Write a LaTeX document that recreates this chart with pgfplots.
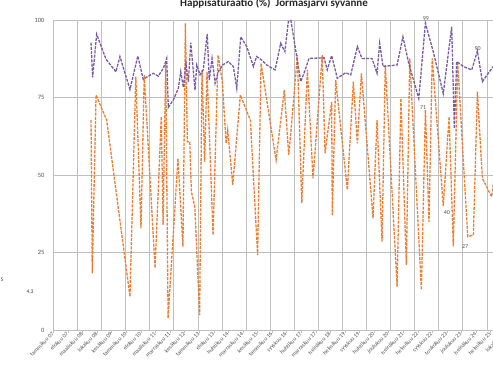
\documentclass[border=0pt]{standalone}
\usepackage{fontspec}
\setmainfont{Carlito}
\usepackage{pgfplots}
\usepackage{pgfplotstable}
\pgfplotsset{compat=1.18}
\definecolor{vioColor}{RGB}{118,90,165}
\definecolor{oraColor}{RGB}{237,125,49}
\definecolor{gridGray}{RGB}{191,191,191}
\definecolor{txtGray}{RGB}{80,80,80}

% x = months since January 2007
\pgfplotstableread{
m v
18.7 92.7
19.5 81.5
21.5 95.4
26.2 87.3
31.1 83.3
33.1 88.2
38.1 77.6
42.0 88.4
44.7 80.9
49.7 82.8
52.2 81.9
54.7 84.4
56.4 87.6
57.2 71.8
59.7 74.2
62.2 78.0
63.4 83.3
64.7 78.3
66.0 86.0
67.2 80.1
68.4 92.7
70.5 77.4
71.4 85.5
73.0 82.3
74.6 83.9
76.6 95.5
77.6 80.6
79.0 87.6
80.5 79.6
82.1 83.3
84.3 85.5
87.1 86.6
89.6 85.0
91.3 78.0
93.3 94.6
96.3 91.4
99.6 85.0
101.2 88.2
103.7 87.1
106.2 85.5
110.4 83.9
113.2 92.5
115.3 89.8
117.0 99.5
118.3 99.8
123.2 80.1
124.8 82.8
127.3 87.6
134.8 87.8
136.4 83.9
138.6 88.5
141.4 81.2
145.6 83.0
148.1 82.3
151.4 91.4
153.7 87.6
158.7 87.6
161.2 82.8
162.5 92.5
164.2 85.0
171.2 85.5
174.1 94.6
177.0 86.0
182.0 74.7
185.3 99.0
189.2 89.8
194.2 76.3
198.4 97.8
199.7 65.0
200.9 86.6
204.2 85.0
208.4 83.9
211.2 90.0
213.7 80.1
216.6 82.8
219.1 85.0
221.5 86.0
}\pinta

\pgfplotstableread{
m v
18.7 67.7
19.3 18.3
21.2 75.8
26.5 67.7
38.1 10.8
41.0 81.7
43.6 32.8
45.2 82.3
50.6 20.0
53.7 68.8
54.6 33.9
55.9 86.0
57.1 3.8
62.0 55.4
64.5 26.9
65.7 98.9
66.7 60.7
67.9 60.7
68.7 44.6
70.4 39.8
72.8 4.8
74.0 83.9
75.3 54.3
76.5 83.3
79.5 30.6
82.0 88.7
84.1 80.1
86.0 60.2
86.8 64.5
89.3 46.8
93.1 75.8
98.1 67.7
101.7 24.2
103.4 86.0
110.9 54.8
115.0 77.4
117.2 56.5
118.3 64.0
121.5 88.7
123.7 40.9
126.5 83.9
129.3 48.9
133.9 88.7
135.3 57.0
138.6 73.6
138.9 37.1
140.6 80.6
146.4 45.2
149.4 80.1
151.4 60.2
153.4 82.8
159.2 36.0
161.2 67.7
163.7 28.5
165.3 85.5
171.2 14.0
173.1 74.7
175.8 21.0
177.5 87.6
183.3 12.9
185.3 71.0
187.1 34.9
188.7 87.6
194.2 40.0
197.1 68.8
199.2 27.0
201.4 86.0
206.4 30.1
209.2 30.6
211.2 76.9
213.7 48.9
218.3 43.0
220.5 54.0
}\pohja

\begin{document}
\begin{tikzpicture}[x=1pt,y=1pt]
\begin{axis}[
    scale only axis,
    anchor=south west,
    at={(53.5pt,40pt)},
    width=457.6pt,
    height=310pt,
    xmin=0, xmax=228,
    ymin=0, ymax=100,
    axis lines*=left,
    axis line style={-,gridGray,line width=0.8pt},
    ytick={0,25,50,75,100},
    ytick style={draw=none},
    ymajorgrids=true,
    grid style={gridGray,line width=0.9pt},
    xtick={0,7.2608,14.5216,21.7824,29.0432,36.304,43.5648,50.8256,58.0864,65.3472,72.608,79.8688,87.1296,94.3904,101.6512,108.912,116.1728,123.4336,130.6944,137.9552,145.216,152.4768,159.7376,166.9984,174.2592,181.52,188.7808,196.0416,203.3024,210.5632,217.824,225.0848},
    xticklabels={tammikuu 07,elokuu 07,maaliskuu 08,lokakuu 08,kesäkuu 09,tammikuu 10,elokuu 10,maaliskuu 11,marraskuu 11,kesäkuu 12,tammikuu 13,elokuu 13,huhtikuu 14,marraskuu 14,kesäkuu 15,tammikuu 16,syyskuu 16,huhtikuu 17,marraskuu 17,heinäkuu 18,helmikuu 19,syyskuu 19,huhtikuu 20,joulukuu 20,heinäkuu 21,helmikuu 22,syyskuu 22,toukokuu 23,joulukuu 23,heinäkuu 24,helmikuu 25,lokakuu 25},
    minor xtick={12,24,...,216},
    xminorgrids=true,
    minor grid style={gridGray,line width=0.9pt},
    minor tick length=0pt,
    tick align=outside,
    major tick length=2.5pt,
    x tick style={gridGray,line width=0.6pt},
    xticklabel style={rotate=45,anchor=east,font=\fontsize{5.8}{6.5}\selectfont,text=txtGray,inner sep=0.8pt},
    yticklabel style={font=\fontsize{6.5}{7}\selectfont,text=txtGray,xshift=-3pt},
    /pgf/number format/assume math mode=true,
    clip=false,
]
\addplot[oraColor,line width=1.3pt,dash pattern=on 3pt off 1.2pt] table[x=m,y=v] {\pohja};
\addplot[vioColor,line width=1.3pt,dash pattern=on 3pt off 1.2pt] table[x=m,y=v] {\pinta};
\node[font=\fontsize{6}{7}\selectfont,text=txtGray] at (axis cs:185.5,100.5) {99};
\node[font=\fontsize{6}{7}\selectfont,text=txtGray] at (axis cs:211.3,90.9) {90};
\node[font=\fontsize{6}{7}\selectfont,text=txtGray] at (axis cs:184.2,71.8) {71};
\node[font=\fontsize{6}{7}\selectfont,text=txtGray] at (axis cs:196.0,38.0) {40};
\node[font=\fontsize{6}{7}\selectfont,text=txtGray] at (axis cs:205.1,26.8) {27};
\end{axis}
\node[anchor=base,font=\bfseries\fontsize{11}{13}\selectfont,text=black!85] at (274pt,363pt) {Happisaturaatio (\%)\ \ Jormasjärvi syvänne};
\node[font=\fontsize{5.5}{6}\selectfont,text=black!80] at (2pt,90pt) {5};
\node[font=\fontsize{5.5}{6}\selectfont,text=black!80] at (30pt,78pt) {4,3};
\pgfresetboundingbox
\path[use as bounding box] (0,0) rectangle (493pt,370pt);
\end{tikzpicture}
\end{document}
